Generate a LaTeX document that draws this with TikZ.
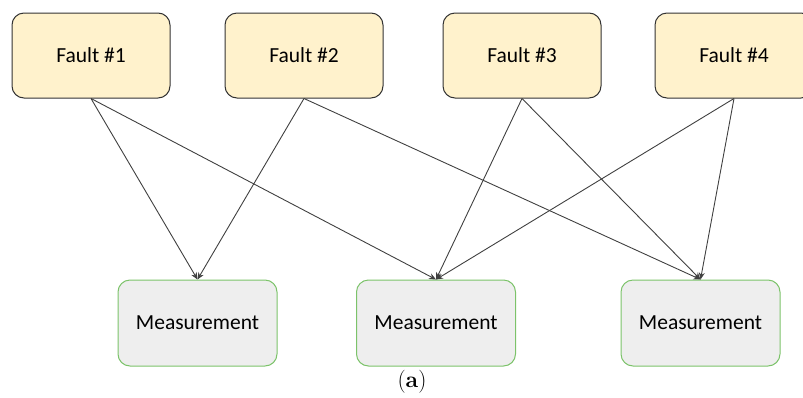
\documentclass[tikz,border=0pt]{standalone}
\usepackage{fontspec}
\setmainfont{Carlito}
\newfontfamily\captionfont{Latin Modern Roman}
\usetikzlibrary{arrows.meta}
\definecolor{faultfill}{HTML}{FFF2CC}
\definecolor{faultdraw}{HTML}{333333}
\definecolor{measfill}{HTML}{EEEEEE}
\definecolor{measdraw}{HTML}{7CC36A}
\definecolor{edgecol}{HTML}{404040}
\tikzset{
  faultbox/.style={draw=faultdraw, fill=faultfill, line width=1pt, rounded corners=12pt,
    minimum width=158pt, minimum height=85pt, font=\fontsize{21.5}{24}\selectfont, inner sep=0pt},
  measbox/.style={draw=measdraw, fill=measfill, line width=1pt, rounded corners=12pt,
    minimum width=159pt, minimum height=86pt, font=\fontsize{21.5}{24}\selectfont, inner sep=0pt},
  link/.style={draw=edgecol, line width=0.9pt, -{Stealth[length=7pt,width=6pt]}}
}
\begin{document}
\begin{tikzpicture}[x=1pt,y=-1pt]
  \useasboundingbox (0,0) rectangle (803,397);
  \clip (0,0) rectangle (803,397);
  % fault boxes
  \node[faultbox] (f1) at (91,55.5) {Fault \#1};
  \node[faultbox] (f2) at (304,55.5) {Fault \#2};
  \node[faultbox] (f3) at (522,55.5) {Fault \#3};
  \node[faultbox] (f4) at (734,55.5) {Fault \#4};
  % measurement boxes
  \node[measbox] (m1) at (197.5,323) {Measurement};
  \node[measbox] (m2) at (436,323) {Measurement};
  \node[measbox] (m3) at (700.5,323) {Measurement};
  % causal links
  \draw[link] (f1.south) -- (m1.north);
  \draw[link] (f1.south) -- (m2.north);
  \draw[link] (f2.south) -- (m1.north);
  \draw[link] (f2.south) -- (m3.north);
  \draw[link] (f3.south) -- (m2.north);
  \draw[link] (f3.south) -- (m3.north);
  \draw[link] (f4.south) -- (m2.north);
  \draw[link] (f4.south) -- (m3.north);
  % caption
  \node[font=\captionfont\fontsize{23}{26}\selectfont] (cap) at (412,382) {(\textbf{a})};
\end{tikzpicture}
\end{document}
